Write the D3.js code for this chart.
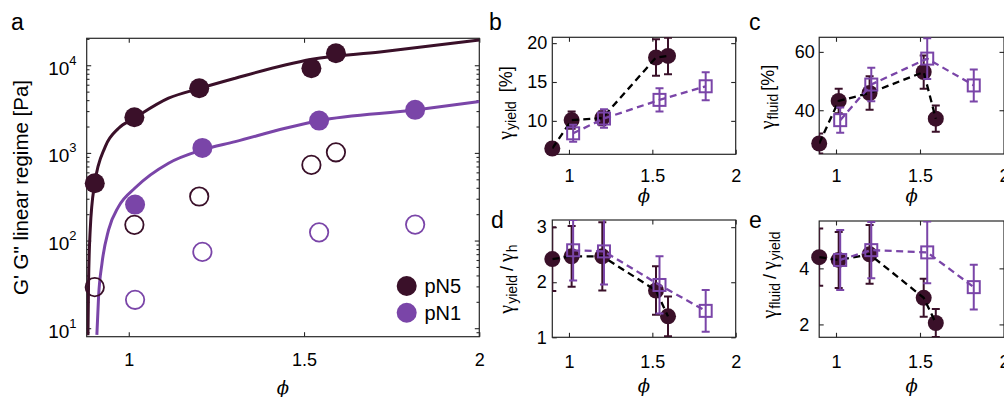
<!DOCTYPE html>
<html><head><meta charset="utf-8">
<script src="https://cdn.jsdelivr.net/npm/d3@7"></script>
<style>
body{margin:0;background:#fff;}
svg{display:block;}
</style>
</head><body>
<svg id="c" width="1004" height="397"></svg>
<script>
// ---------- data ----------
// panel a: moduli in linear regime
const phiA5 = [0.903, 1.016, 1.201, 1.521, 1.591];
const gPrimeA5 = [450, 2550, 5470, 9240, 13700];
const gDoubleA5 = [29.4, 151, 318, 730, 1016];
const phiA1 = [1.018, 1.21, 1.543, 1.817];
const gPrimeA1 = [257, 1140, 2336, 3100];
const gDoubleA1 = [21.1, 74.3, 124, 152];
// fitted curves
const fitPhi5 = [0.8836, 0.8853, 0.890, 0.9025, 0.933, 0.971, 1.0165, 1.1135, 1.204, 1.304, 1.446, 1.5225, 1.7165, 2.0];
const fitG5 = [8.3, 32.6, 132, 440, 1180, 1910, 2500, 4210, 5470, 7110, 10080, 11700, 14200, 19400];
const fitPhi1 = [0.909, 0.9139, 0.9236, 0.9424, 0.9709, 1.0185, 1.1135, 1.2088, 1.3038, 1.4464, 1.5414, 1.8172, 2.0];
const fitG1 = [8.4, 23, 55, 132, 244, 400, 763, 1080, 1344, 1911, 2333, 3090, 3850];
// panels b-e
const phiB5 = [0.9, 1.016, 1.2, 1.522, 1.594];
const phiB1 = [1.025, 1.21, 1.543, 1.82];
const yieldPN5 = [6.45, 10.1, 10.35, 18.15, 18.35];
const yieldErrPN5 = [0.4, 1.1, 0.9, 2.35, 2.35];
const yieldPN1 = [8.4, 10.3, 12.7, 14.45];
const yieldErrPN1 = [1.1, 1.2, 1.5, 1.8];
const fluidPN5 = [28.6, 43.2, 45.9, 53.1, 37.1];
const fluidErrPN5 = [3.4, 4.2, 5.75, 5.7, 4.5];
const fluidPN1 = [36.6, 48.8, 57.7, 48.5];
const fluidErrPN1 = [4.3, 5.75, 7.0, 5.5];
const hRatioPN5 = [2.42, 2.47, 2.47, 1.85, 1.38];
const hRatioErrPN5 = [0.58, 0.55, 0.62, 0.44, 0.36];
const hRatioPN1 = [2.58, 2.56, 1.95, 1.48];
const hRatioErrPN1 = [0.55, 0.6, 0.52, 0.38];
const fyRatioPN5 = [4.4, 4.3, 4.5, 2.95, 2.05];
const fyRatioErrPN5 = [1.02, 1.0, 1.05, 0.68, 0.5];
const fyRatioPN1 = [4.3, 4.65, 4.57, 3.33];
const fyRatioErrPN1 = [1.07, 1.0, 1.1, 0.8];
// ticks
const xTicks = [1, 1.5, 2];
const yTicksA = [10, 100, 1000, 10000];
const yTicksB = [10, 15, 20];
const yTicksC = [40, 60];
const yTicksD = [1, 2, 3];
const yTicksE = [2, 4];
const legendNames = ["pN5", "pN1"];

// ---------- style ----------
const DARK = "#3a1029", PURP = "#7a45a8", AX = "#262626";
const FONT = "'Liberation Sans', Arial, Helvetica, sans-serif";
const GREEK = "'Liberation Serif', 'Times New Roman', serif";
const TL = 4.5;
const svg = d3.select("#c");
let clipId = 0;

function st(s, fs) {
  s.attr("font-family", null).attr("font-size", null);
  s.select(".domain").remove();
  s.selectAll(".tick line").attr("stroke", AX).attr("stroke-width", 1.1);
  s.selectAll(".tick text").attr("fill", "#000").style("font-size", (fs || 18) + "px").style("font-family", FONT);
}
const none = () => "";
const fmt = d => String(d);

function axes(x, y, o) {
  const g = svg.append("g");
  const [xl, xr] = x.range(), [yb, yt] = y.range();
  g.append("g").attr("transform", `translate(0,${yb})`)
    .call(d3.axisBottom(x).tickValues(xTicks).tickFormat(fmt).tickSize(-TL).tickPadding(o.xpad)).call(st);
  g.append("g").attr("transform", `translate(0,${yt})`)
    .call(d3.axisTop(x).tickValues(xTicks).tickFormat(none).tickSize(-TL)).call(st);
  g.append("g").attr("transform", `translate(${xl},0)`)
    .call(d3.axisLeft(y).tickValues(o.yt).tickFormat(o.yf || fmt).tickSize(-TL).tickPadding(o.ypad)).call(st);
  g.append("g").attr("transform", `translate(${xr},0)`)
    .call(d3.axisRight(y).tickValues(o.yt).tickFormat(none).tickSize(-TL)).call(st);
  if (o.minor) {
    g.append("g").attr("transform", `translate(${xl},0)`)
      .call(d3.axisLeft(y).tickValues(o.minor).tickFormat(none).tickSize(-2.8)).call(st);
    g.append("g").attr("transform", `translate(${xr},0)`)
      .call(d3.axisRight(y).tickValues(o.minor).tickFormat(none).tickSize(-2.8)).call(st);
  }
  g.append("rect").attr("x", xl).attr("y", yt).attr("width", xr - xl).attr("height", yb - yt)
    .attr("fill", "none").attr("stroke", AX).attr("stroke-width", 1.2);
  // x label phi
  g.append("text").attr("x", (xl + xr) / 2).attr("y", o.phiY).attr("text-anchor", "middle")
    .style("font-family", "'DejaVu Serif', serif").style("font-style", "italic").style("font-size", "18px")
    .text("\u03D5");
  return g;
}
function clip(x, y) {
  const id = "clip" + (clipId++);
  const [xl, xr] = x.range(), [yb, yt] = y.range();
  svg.append("clipPath").attr("id", id).append("rect")
    .attr("x", xl).attr("y", yt).attr("width", xr - xl).attr("height", yb - yt);
  return "url(#" + id + ")";
}
function panelLabel(t, x, y) {
  svg.append("text").attr("x", x).attr("y", y).style("font-family", FONT).style("font-size", "23px").text(t);
}

// ---------- panel a ----------
{
  const x = d3.scaleLinear().domain([0.88, 2]).range([86.7, 479.3]);
  const y = d3.scaleLog().domain([8, 20300]).range([336.7, 38.3]);
  const minor = [];
  [10, 100, 1000, 10000].forEach(b => { for (let k = 2; k <= 9; k++) { const v = b * k; if (v <= 20300) minor.push(v); } });
  minor.push(9);
  axes(x, y, { yt: yTicksA, yf: none, ypad: 4, xpad: 16.5, minor: minor, phiY: 394 });
  // log tick labels 10^k
  const lab = svg.append("g");
  yTicksA.forEach(v => {
    const ty = y(v);
    const t = lab.append("text").attr("x", 76.5).attr("y", ty + 9.5).attr("text-anchor", "end")
      .style("font-family", FONT).style("font-size", "19px");
    t.append("tspan").text("10");
    t.append("tspan").attr("dy", -10).style("font-size", "13px").text(String(Math.round(Math.log10(v))));
  });
  // y label
  svg.append("text").attr("transform", "translate(28,187.5) rotate(-90)").attr("text-anchor", "middle")
    .style("font-family", FONT).style("font-size", "20.5px").text("G' G\" linear regime [Pa]");
  const cp = clip(x, y);
  const line = d3.line().x(d => x(d[0])).y(d => y(d[1])).curve(d3.curveMonotoneX);
  const fg = svg.append("g").attr("clip-path", cp);
  fg.append("path").datum(d3.zip(fitPhi1, fitG1)).attr("d", line).attr("fill", "none").attr("stroke", PURP).attr("stroke-width", 3);
  fg.append("path").datum(d3.zip(fitPhi5, fitG5)).attr("d", line).attr("fill", "none").attr("stroke", DARK).attr("stroke-width", 3);
  const m = svg.append("g");
  m.selectAll(".o5").data(d3.zip(phiA5, gDoubleA5)).join("circle").attr("cx", d => x(d[0])).attr("cy", d => y(d[1]))
    .attr("r", 9.2).attr("fill", "none").attr("stroke", DARK).attr("stroke-width", 1.8);
  m.selectAll(".o1").data(d3.zip(phiA1, gDoubleA1)).join("circle").attr("cx", d => x(d[0])).attr("cy", d => y(d[1]))
    .attr("r", 9.2).attr("fill", "none").attr("stroke", PURP).attr("stroke-width", 1.8);
  m.selectAll(".f1").data(d3.zip(phiA1, gPrimeA1)).join("circle").attr("cx", d => x(d[0])).attr("cy", d => y(d[1]))
    .attr("r", 10).attr("fill", PURP);
  m.selectAll(".f5").data(d3.zip(phiA5, gPrimeA5)).join("circle").attr("cx", d => x(d[0])).attr("cy", d => y(d[1]))
    .attr("r", 10).attr("fill", DARK);
  // legend
  const lg = svg.append("g");
  [DARK, PURP].forEach((c, i) => {
    const cy = 286 + i * 26.7;
    lg.append("circle").attr("cx", 406.7).attr("cy", cy).attr("r", 10).attr("fill", c);
    lg.append("text").attr("x", 424.5).attr("y", cy + 7).style("font-family", FONT).style("font-size", "20px").text(legendNames[i]);
  });
}
panelLabel("a", 11, 30);

// ---------- panels b-e ----------
function smallPanel(o) {
  const x = d3.scaleLinear().domain([0.9, 2]).range(o.xr);
  const y = d3.scaleLinear().domain(o.yd).range(o.yr);
  axes(x, y, { yt: o.yt, ypad: o.ypad, xpad: o.xpad, phiY: o.phiY });
  const cp = clip(x, y);
  const line = d3.line().x(d => x(d[0])).y(d => y(d[1]));
  function errs(px, py, pe, color) {
    const g = svg.append("g").attr("clip-path", cp).attr("stroke", color).attr("stroke-width", 2).attr("fill", "none");
    d3.zip(px, py, pe).forEach(d => {
      const cx = x(d[0]), y1 = y(d[1] - d[2]), y2 = y(d[1] + d[2]);
      g.append("line").attr("x1", cx).attr("x2", cx).attr("y1", y1).attr("y2", y2);
      g.append("line").attr("x1", cx - 4).attr("x2", cx + 4).attr("y1", y1).attr("y2", y1);
      g.append("line").attr("x1", cx - 4).attr("x2", cx + 4).attr("y1", y2).attr("y2", y2);
    });
  }
  // pN5
  errs(phiB5, o.v5, o.e5, DARK);
  svg.append("g").selectAll("circle").data(d3.zip(phiB5, o.v5)).join("circle")
    .attr("cx", d => x(d[0])).attr("cy", d => y(d[1])).attr("r", 8).attr("fill", DARK);
  svg.append("path").attr("clip-path", cp).datum(d3.zip(phiB5, o.v5)).attr("d", line).attr("fill", "none")
    .attr("stroke", "#000").attr("stroke-width", 2.3).attr("stroke-dasharray", "7,4.5");
  // pN1
  errs(phiB1, o.v1, o.e1, PURP);
  svg.append("path").attr("clip-path", cp).datum(d3.zip(phiB1, o.v1)).attr("d", line).attr("fill", "none")
    .attr("stroke", PURP).attr("stroke-width", 2.3).attr("stroke-dasharray", "7,4.5");
  svg.append("g").selectAll("rect").data(d3.zip(phiB1, o.v1)).join("rect")
    .attr("x", d => x(d[0]) - 6).attr("y", d => y(d[1]) - 6).attr("width", 12).attr("height", 12)
    .attr("fill", "none").attr("stroke", PURP).attr("stroke-width", 2);
  // y label
  const t = svg.append("text").attr("transform", `translate(${o.labX},${o.labY}) rotate(-90)`).attr("text-anchor", "middle")
    .style("font-family", FONT).style("font-size", "18px");
  o.label.forEach(p => {
    const ts = t.append("tspan").text(p.t);
    if (p.sub) ts.style("font-size", "14px");
    if (p.greek) ts.style("font-family", GREEK).style("font-size", "20px");
    if (p.dy) ts.attr("dy", p.dy);
    if (p.dx) ts.attr("dx", p.dx);
  });
}

smallPanel({ xr: [552.3, 735.7], yd: [5.7, 20.75], yr: [154.3, 37.3], yt: yTicksB, ypad: 5, xpad: 15, phiY: 202,
  v5: yieldPN5, e5: yieldErrPN5, v1: yieldPN1, e1: yieldErrPN1, labX: 512, labY: 103,
  label: [{ t: "\u03B3", greek: true }, { t: "yield", sub: true, dy: 4, dx: 1 }, { t: "[%]", dy: -4, dx: 9 }] });
smallPanel({ xr: [819.2, 1004], yd: [25, 65], yr: [154, 37.3], yt: yTicksC, ypad: 4.5, xpad: 15, phiY: 202,
  v5: fluidPN5, e5: fluidErrPN5, v1: fluidPN1, e1: fluidErrPN1, labX: 774, labY: 97,
  label: [{ t: "\u03B3", greek: true }, { t: "fluid", sub: true, dy: 4, dx: 1 }, { t: "[%]", dy: -4, dx: 3 }] });
smallPanel({ xr: [552.3, 735.7], yd: [1, 3.13], yr: [337.3, 220], yt: yTicksD, ypad: 5.5, xpad: 18, phiY: 392,
  v5: hRatioPN5, e5: hRatioErrPN5, v1: hRatioPN1, e1: hRatioErrPN1, labX: 513, labY: 279,
  label: [{ t: "\u03B3", greek: true }, { t: "yield", sub: true, dy: 4, dx: 1 }, { t: "/", dy: -4, dx: 4 }, { t: "\u03B3", greek: true, dx: 4 }, { t: "h", sub: true, dy: 4, dx: 1 }] });
smallPanel({ xr: [819.2, 1004], yd: [1.54, 5.69], yr: [337.3, 221], yt: yTicksE, ypad: 10, xpad: 18, phiY: 392,
  v5: fyRatioPN5, e5: fyRatioErrPN5, v1: fyRatioPN1, e1: fyRatioErrPN1, labX: 776, labY: 275,
  label: [{ t: "\u03B3", greek: true }, { t: "fluid", sub: true, dy: 4, dx: 1 }, { t: "/", dy: -4, dx: 4 }, { t: "\u03B3", greek: true, dx: 4 }, { t: "yield", sub: true, dy: 4, dx: 1 }] });

panelLabel("b", 489, 30);
panelLabel("c", 749, 30);
panelLabel("d", 491, 228);
panelLabel("e", 749, 228);
</script>
</body></html>
